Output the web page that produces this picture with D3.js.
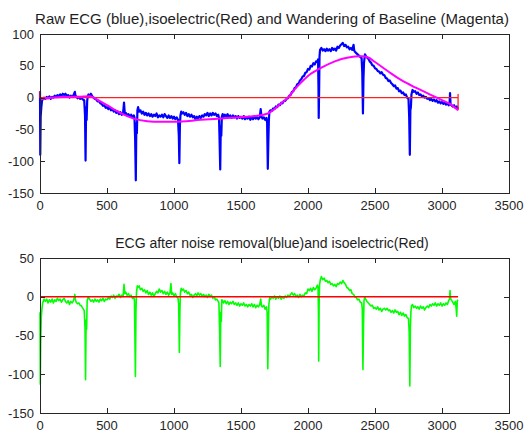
<!DOCTYPE html>
<html lang="en">
<head>
  <meta charset="utf-8">
  <script src="https://d3js.org/d3.v7.min.js"></script>
  <style>
    body { margin: 0; background: #fff; }
    svg { display: block; font-family: Arial, "Liberation Sans", sans-serif; }
    .frame { fill: none; stroke: #262626; stroke-width: 1; }
    .tick-mark { stroke: #262626; stroke-width: 1; }
    .tick-label { fill: #262626; font-size: 13px; }
    .title { fill: #1e1e1e; }
  </style>
</head>
<body>
  <svg id="chart" width="532" height="432"></svg>
  <script>
    // ---- data ----
    var xTicks = [0, 500, 1000, 1500, 2000, 2500, 3000, 3500];
    var yTicksTop = [100, 50, 0, -50, -100, -150];
    var yTicksBottom = [50, 0, -50, -100, -150];

    var titleTop = "Raw ECG (blue),isoelectric(Red) and Wandering of Baseline (Magenta)";
    var titleBottom = "ECG after noise removal(blue)and isoelectric(Red)";

    // raw ecg [sample, value]
    var rawEcg = [
      [0,10],[2,-90],[5,-30],[10,-15],[15,-5],[20,-3],[30,0],[40,-2],[50,1],[60,-1],[70,2],[80,-2],[90,1],[100,0],
      [110,3],[120,1],[130,4],[140,2],[150,5],[160,3],[170,6],[180,4],[190,6],[200,2],[210,4],[220,0],[230,3],[240,1],
      [250,4],[260,9],[265,3],[270,2],[280,-1],[290,1],[300,-2],[310,0],[320,-3],[330,-4],[336,-28],[340,-99],[344,-15],
      [348,-35],[352,-6],[356,2],[362,5],[370,3],[380,6],[390,2],[400,0],[410,-2],[420,-3],[430,-6],[440,-5],[450,-9],
      [460,-10],[470,-13],[480,-12],[490,-16],[500,-15],[510,-18],[520,-15],[530,-20],[540,-18],[550,-22],[560,-20],
      [570,-24],[580,-22],[590,-26],[600,-23],[610,-27],[620,-24],[627,-8],[633,-26],[640,-24],[650,-28],[660,-26],
      [670,-30],[680,-27],[690,-31],[700,-28],[705,-31],[710,-65],[715,-130],[719,-40],[723,-56],[727,-20],[732,-15],
      [740,-22],[750,-20],[760,-25],[770,-22],[780,-27],[790,-24],[800,-28],[810,-25],[820,-29],[830,-26],[840,-30],
      [850,-27],[860,-29],[870,-25],[880,-31],[890,-28],[900,-30],[910,-27],[920,-31],[930,-26],[940,-29],[950,-32],
      [960,-28],[970,-32],[980,-29],[990,-33],[1000,-30],[1010,-34],[1020,-31],[1030,-35],[1036,-60],[1040,-103],
      [1044,-45],[1048,-28],[1054,-22],[1060,-25],[1070,-23],[1080,-27],[1090,-24],[1100,-29],[1110,-26],[1120,-30],
      [1130,-27],[1140,-31],[1150,-29],[1160,-34],[1170,-30],[1180,-33],[1190,-29],[1200,-32],[1210,-28],[1220,-30],
      [1230,-26],[1240,-28],[1250,-24],[1260,-29],[1270,-25],[1280,-28],[1290,-24],[1300,-27],[1310,-25],[1320,-29],
      [1330,-27],[1336,-32],[1340,-65],[1345,-113],[1349,-45],[1353,-60],[1357,-30],[1363,-26],[1370,-31],[1380,-27],
      [1390,-30],[1400,-26],[1410,-31],[1420,-28],[1430,-32],[1440,-28],[1450,-31],[1460,-29],[1470,-33],[1480,-29],
      [1490,-32],[1500,-30],[1510,-33],[1520,-29],[1530,-34],[1540,-31],[1550,-33],[1560,-30],[1570,-35],[1580,-31],
      [1590,-34],[1600,-30],[1610,-33],[1620,-31],[1630,-34],[1640,-31],[1647,-18],[1653,-30],[1660,-33],[1670,-31],
      [1680,-35],[1690,-32],[1695,-40],[1700,-112],[1704,-70],[1708,-35],[1712,-22],[1720,-20],[1730,-21],[1740,-17],
      [1750,-18],[1760,-14],[1770,-15],[1780,-11],[1790,-12],[1800,-8],[1810,-9],[1820,-5],[1830,-5],[1840,-2],
      [1850,-1],[1860,3],[1870,4],[1880,9],[1890,10],[1900,15],[1910,16],[1920,21],[1930,22],[1940,27],[1950,29],
      [1960,33],[1970,34],[1980,39],[1990,40],[2000,45],[2010,44],[2020,50],[2030,49],[2040,54],[2050,52],[2060,57],
      [2070,56],[2075,60],[2078,20],[2080,-32],[2083,10],[2086,65],[2090,75],[2100,78],[2110,74],[2120,76],
      [2130,73],[2140,77],[2150,74],[2160,76],[2170,73],[2180,78],[2190,75],[2200,77],[2210,74],[2220,80],[2230,78],
      [2240,82],[2250,84],[2260,86],[2270,81],[2280,83],[2290,79],[2300,80],[2310,76],[2320,78],[2330,75],[2340,83],
      [2345,74],[2350,72],[2360,70],[2370,68],[2380,66],[2390,64],[2400,62],[2405,40],[2410,-25],[2414,30],
      [2418,55],[2425,68],[2430,66],[2440,63],[2450,61],[2460,57],[2470,55],[2480,51],[2490,50],[2500,46],[2510,45],
      [2520,42],[2530,41],[2540,38],[2550,40],[2560,36],[2570,35],[2580,31],[2590,30],[2600,26],[2610,27],[2620,23],
      [2630,21],[2640,18],[2650,19],[2660,14],[2670,15],[2680,10],[2690,11],[2700,7],[2710,8],[2720,4],[2730,5],
      [2740,0],[2750,-2],[2755,-30],[2760,-90],[2764,-20],[2768,-15],[2772,5],[2780,12],[2790,9],[2800,10],[2810,6],
      [2820,8],[2830,4],[2840,5],[2850,2],[2860,3],[2870,0],[2880,1],[2890,-2],[2900,-1],[2910,-4],[2920,-2],
      [2930,-5],[2940,-3],[2950,-6],[2960,-4],[2970,-8],[2980,-6],[2990,-9],[3000,-7],[3010,-10],[3020,-8],
      [3030,-11],[3040,-9],[3050,-12],[3056,-10],[3060,7],[3064,-11],[3070,-12],[3080,-14],[3090,-12],[3100,-16],
      [3110,-14],[3120,-18]
    ];

    // baseline wander (magenta)
    var baseline = [
      [0,-3],[100,0],[200,1],[300,1.5],[370,2],[450,-6],[500,-12],[600,-24],[700,-33],[800,-37],[900,-38],
      [1000,-38],[1200,-35],[1400,-32],[1600,-29],[1700,-25],[1750,-18],[1800,-9],[1850,0],[1900,13],[1950,24],
      [2000,34],[2100,47],[2200,57],[2300,63],[2400,65],[2450,63],[2500,56],[2600,41],[2700,27],[2800,16],
      [2900,6],[3000,-4],[3060,-10],[3120,-20]
    ];

    // isoelectric line (red)
    var isoTop = [[0,10],[0,0],[3120,0],[3120,5],[3120,-20]];
    var isoBottom = [[0,0],[3120,0]];

    // ecg after noise removal (green)
    var cleanEcg = [
      [0,-20],[2,-113],[5,-60],[10,-25],[15,-15],[20,-8],[30,-3],[40,-6],[50,-3],[60,-8],[70,-4],[80,-7],[90,-3],
      [100,-8],[110,-4],[120,-6],[130,-2],[140,-5],[150,-3],[160,-7],[170,-4],[180,-2],[190,-6],[200,-8],[210,-5],
      [220,-10],[230,-6],[240,-8],[250,-5],[260,3],[265,-4],[270,-7],[280,-9],[290,-8],[300,-11],[310,-12],[320,-15],
      [330,-18],[336,-40],[340,-107],[344,-30],[348,-42],[352,-5],[360,0],[370,-3],[380,-6],[390,-4],[400,-7],
      [410,-3],[420,-6],[430,-4],[440,-7],[450,-3],[460,-5],[470,-2],[480,-6],[490,-3],[500,-4],[510,-1],[520,-3],
      [530,1],[540,-1],[550,2],[560,-2],[570,1],[580,0],[590,3],[600,-1],[610,2],[620,0],[627,16],[633,4],[640,6],
      [650,2],[660,4],[670,0],[680,2],[690,-2],[700,0],[705,-5],[708,-45],[712,-103],[716,-20],[720,5],[726,14],
      [730,12],[740,14],[750,9],[760,11],[770,7],[780,9],[790,5],[800,8],[810,3],[820,6],[830,2],[840,5],[850,0],
      [860,4],[870,7],[880,5],[890,10],[900,6],[910,8],[920,4],[930,7],[940,3],[950,6],[960,2],[970,5],[977,17],
      [983,3],[990,5],[1000,1],[1010,4],[1020,0],[1030,-2],[1035,-10],[1040,-72],[1044,-20],[1048,5],[1054,11],
      [1060,8],[1070,10],[1080,6],[1090,8],[1100,4],[1110,6],[1120,2],[1130,3],[1140,-1],[1150,2],[1160,4],
      [1170,1],[1180,5],[1190,2],[1200,4],[1210,1],[1220,3],[1230,0],[1240,2],[1250,-1],[1260,3],[1270,0],[1280,2],
      [1290,-2],[1300,0],[1310,-4],[1320,-3],[1330,-6],[1335,-8],[1340,-40],[1345,-90],[1349,-20],[1353,-32],
      [1357,-4],[1363,-5],[1370,-8],[1380,-5],[1390,-9],[1400,-6],[1410,-10],[1420,-7],[1430,-9],[1440,-6],
      [1450,-10],[1460,-8],[1470,-11],[1480,-8],[1490,-12],[1500,-9],[1510,-11],[1520,-8],[1530,-12],[1540,-10],
      [1550,-13],[1560,-10],[1570,-12],[1580,-9],[1590,-13],[1600,-10],[1610,-14],[1620,-11],[1630,-13],[1640,-10],
      [1647,-3],[1653,-12],[1660,-13],[1670,-11],[1680,-16],[1690,-13],[1695,-20],[1700,-93],[1704,-50],
      [1708,-10],[1714,-1],[1720,-3],[1730,0],[1740,-2],[1750,1],[1760,-3],[1770,0],[1780,-2],[1790,1],[1800,-3],
      [1810,0],[1820,-2],[1830,1],[1840,-1],[1850,2],[1860,0],[1870,3],[1880,5],[1890,2],[1900,4],[1910,0],
      [1920,2],[1930,-1],[1940,3],[1950,0],[1960,2],[1970,1],[1980,5],[1990,4],[2000,10],[2010,8],[2020,11],
      [2030,7],[2040,12],[2050,9],[2060,11],[2070,15],[2075,12],[2078,-20],[2080,-83],[2083,-10],[2086,15],
      [2092,22],[2100,26],[2110,22],[2120,24],[2130,20],[2140,21],[2150,18],[2160,20],[2170,16],[2180,17],
      [2190,14],[2200,16],[2210,13],[2220,17],[2230,16],[2240,19],[2250,17],[2260,21],[2270,18],[2280,16],
      [2290,12],[2300,11],[2310,8],[2320,9],[2330,4],[2340,3],[2350,0],[2360,-1],[2370,-4],[2380,-3],[2390,-7],
      [2400,-8],[2405,-15],[2410,-94],[2414,-40],[2418,-5],[2424,0],[2430,-3],[2440,-6],[2450,-8],[2460,-10],
      [2470,-12],[2480,-11],[2490,-15],[2500,-14],[2510,-16],[2520,-13],[2530,-17],[2540,-15],[2550,-19],
      [2560,-16],[2570,-15],[2580,-17],[2590,-15],[2600,-18],[2610,-17],[2620,-20],[2630,-18],[2640,-21],
      [2650,-17],[2660,-20],[2670,-19],[2680,-23],[2690,-20],[2700,-24],[2710,-21],[2720,-25],[2730,-23],
      [2740,-27],[2750,-28],[2755,-45],[2760,-115],[2764,-40],[2768,-20],[2772,-12],[2780,-10],[2790,-14],
      [2800,-12],[2810,-15],[2820,-13],[2830,-16],[2840,-12],[2850,-15],[2860,-13],[2870,-17],[2880,-14],
      [2890,-12],[2900,-14],[2910,-10],[2920,-12],[2930,-9],[2940,-11],[2950,-8],[2960,-12],[2970,-9],
      [2980,-11],[2990,-8],[3000,-12],[3010,-9],[3020,-11],[3030,-8],[3040,-10],[3050,-5],[3056,-3],[3060,8],
      [3064,-2],[3070,-4],[3080,-7],[3090,-10],[3100,-6],[3105,-14],[3110,-25],[3114,-5],[3120,-4]
    ];

    // ---- layout ----
    var svg = d3.select("#chart");
    var left = 40, right = 509;
    var tickLen = 5;

    var x = d3.scaleLinear().domain([0, 3500]).range([left, right]);

    function panel(top, bottom, yDomain, yTicks, title, titleSize, series) {
      var y = d3.scaleLinear().domain(yDomain).range([bottom, top]);
      var g = svg.append("g");

      var line = d3.line()
        .x(function(d) { return x(d[0]); })
        .y(function(d) { return y(d[1]); });

      series.forEach(function(s) {
        g.append("path")
          .datum(s.data)
          .attr("fill", "none")
          .attr("stroke", s.color)
          .attr("stroke-width", s.width)
          .attr("stroke-linejoin", "round")
          .attr("d", line.curve(s.curve || d3.curveLinear)(s.data));
      });

      // box
      g.append("rect")
        .attr("class", "frame")
        .attr("x", left + 0.5)
        .attr("y", top + 0.5)
        .attr("width", right - left)
        .attr("height", bottom - top);

      // x ticks (inward, top and bottom)
      xTicks.forEach(function(t) {
        var px = Math.round(x(t)) + 0.5;
        g.append("line").attr("class", "tick-mark")
          .attr("x1", px).attr("x2", px).attr("y1", bottom).attr("y2", bottom - tickLen);
        g.append("line").attr("class", "tick-mark")
          .attr("x1", px).attr("x2", px).attr("y1", top).attr("y2", top + tickLen);
        g.append("text").attr("class", "tick-label")
          .attr("x", x(t))
          .attr("y", bottom + 17)
          .attr("text-anchor", "middle")
          .text(t);
      });

      // y ticks (inward, left and right)
      yTicks.forEach(function(t) {
        var py = Math.round(y(t)) + 0.5;
        g.append("line").attr("class", "tick-mark")
          .attr("x1", left).attr("x2", left + tickLen).attr("y1", py).attr("y2", py);
        g.append("line").attr("class", "tick-mark")
          .attr("x1", right).attr("x2", right - tickLen).attr("y1", py).attr("y2", py);
        g.append("text").attr("class", "tick-label")
          .attr("x", left - 6)
          .attr("y", y(t))
          .attr("dy", "0.36em")
          .attr("text-anchor", "end")
          .text(t);
      });

      g.append("text").attr("class", "title")
        .attr("x", 272)
        .attr("y", top - 10)
        .attr("text-anchor", "middle")
        .style("font-size", titleSize + "px")
        .text(title);
    }

    panel(34, 193, [-150, 100], yTicksTop, titleTop, 15, [
      { data: rawEcg, color: "#0000ff", width: 2.2 },
      { data: isoTop, color: "#ff2020", width: 1.3 },
      { data: baseline, color: "#ff00ff", width: 2, curve: d3.curveMonotoneX }
    ]);

    panel(258, 413, [-150, 50], yTicksBottom, titleBottom, 14, [
      { data: cleanEcg, color: "#00ff00", width: 1.6 },
      { data: isoBottom, color: "#ff0000", width: 1.5 }
    ]);
  </script>
</body>
</html>
